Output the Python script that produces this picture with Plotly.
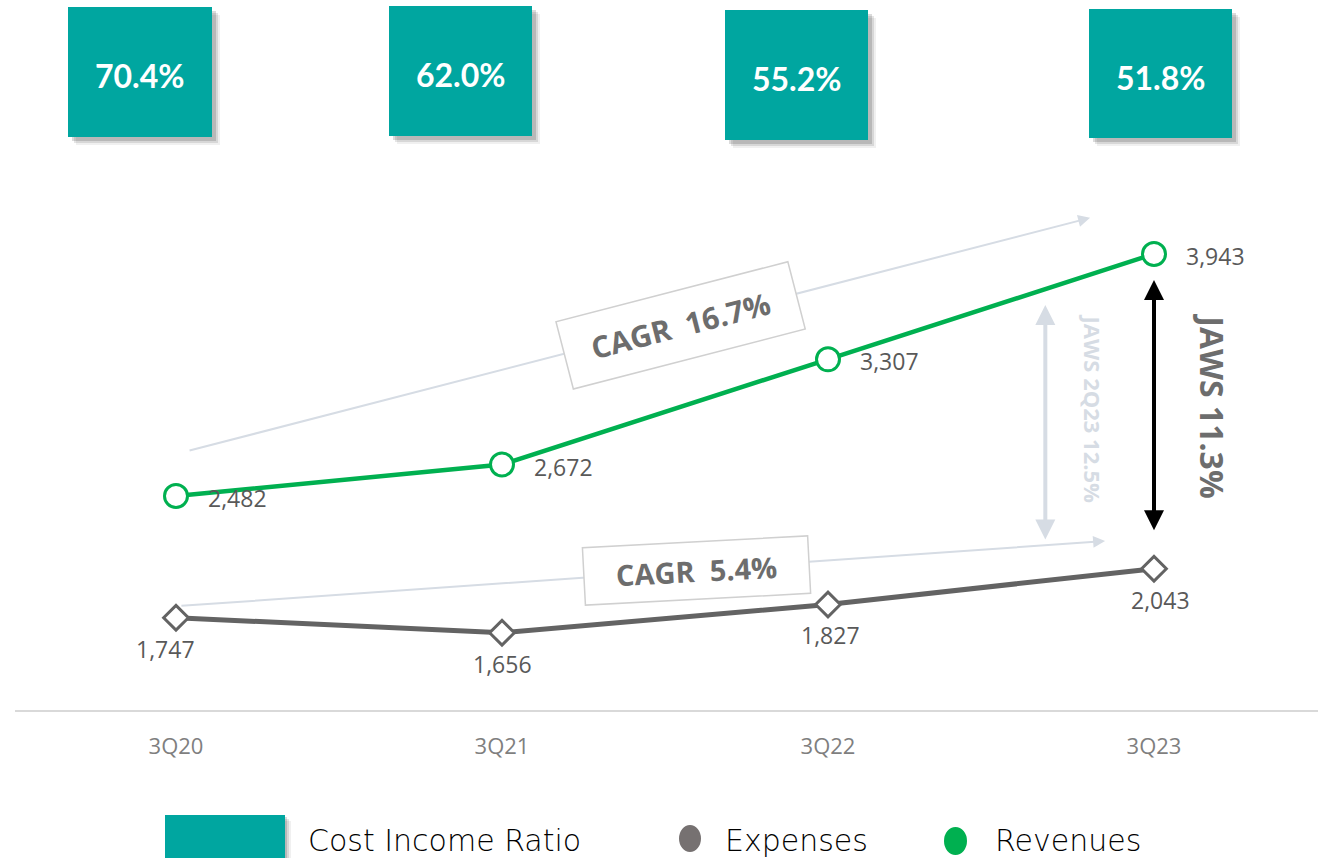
import plotly.graph_objects as go

# ---------------- data ----------------
categories = ["3Q20", "3Q21", "3Q22", "3Q23"]
revenues = [2482, 2672, 3307, 3943]
expenses = [1747, 1656, 1827, 2043]
cost_income_ratio = [70.4, 62.0, 55.2, 51.8]
cagr_revenues = 16.7
cagr_expenses = 5.4
jaws_current = 11.3
jaws_prev_label = "JAWS 2Q23"
jaws_prev = 12.5
legend_names = ["Cost Income Ratio", "Expenses", "Revenues"]

# ---------------- style ----------------
GREEN = "#00B050"
GREY = "#636363"
TEAL = "#00A6A0"
LIGHT = "#D6DCE4"
LABEL = "#595959"
NB = "\u00a0"
W, H = 1327, 858
ML, MR, MT, MB = 15, 9, 0, 148
PW, PH = W - ML - MR, H - MT - MB


def px(xp):
    return (xp - ML) / PW


def py(yp):
    return (H - MB - yp) / PH


xs = list(range(len(categories)))

fig = go.Figure()

fig.add_trace(go.Scatter(
    x=xs, y=expenses, mode="lines+markers", name=legend_names[1],
    line=dict(color=GREY, width=5),
    marker=dict(symbol="diamond", size=19, color="white", line=dict(color=GREY, width=3)),
    cliponaxis=False, showlegend=False, hoverinfo="x+y"))

fig.add_trace(go.Scatter(
    x=xs, y=revenues, mode="lines+markers", name=legend_names[2],
    line=dict(color=GREEN, width=4.5),
    marker=dict(symbol="circle", size=23, color="white", line=dict(color=GREEN, width=3)),
    cliponaxis=False, showlegend=False, hoverinfo="x+y"))

ann = []
shapes = []

# data labels
for x, v in zip(xs, revenues):
    ann.append(dict(x=x, y=v, xref="x", yref="y", text=f"{v:,}", showarrow=False,
                    xanchor="left", yanchor="middle", xshift=30, yshift=-2,
                    font=dict(family="Open Sans", size=23, color=LABEL)))
exp_xshift = [-11, 0, 2, 6]
for x, v, s in zip(xs, expenses, exp_xshift):
    ann.append(dict(x=x, y=v, xref="x", yref="y", text=f"{v:,}", showarrow=False,
                    xanchor="center", yanchor="middle", xshift=s, yshift=-31,
                    font=dict(family="Open Sans", size=23, color=LABEL)))

# CAGR arrows (light)
ann.append(dict(x=2.804, y=4161, ax=0.037, ay=2754, xref="x", yref="y", axref="x", ayref="y",
                text="", showarrow=True, arrowhead=2, arrowsize=1.2, arrowwidth=2, arrowcolor=LIGHT))
ann.append(dict(x=2.85, y=2210, ax=0.012, ay=1818, xref="x", yref="y", axref="x", ayref="y",
                text="", showarrow=True, arrowhead=2, arrowsize=1.2, arrowwidth=2, arrowcolor=LIGHT))

# JAWS previous (light double arrow at 2Q23 position)
ann.append(dict(x=2 + 2 / 3, y=3635, ax=2 + 2 / 3, ay=2210, xref="x", yref="y", axref="x", ayref="y",
                text="", showarrow=True, arrowhead=2, startarrowhead=2, arrowside="end+start",
                arrowsize=1, arrowwidth=4, arrowcolor=LIGHT))
ann.append(dict(x=2 + 2 / 3, y=2905, xref="x", yref="y", xshift=48, yshift=17,
                text=f"<b>{jaws_prev_label} {jaws_prev:.1f}%</b>", textangle=90, showarrow=False,
                xanchor="center", yanchor="middle",
                font=dict(family="Open Sans", size=22, color=LIGHT)))

# JAWS current (black double arrow at 3Q23)
ann.append(dict(x=3, y=revenues[3], ax=3, ay=expenses[3], xref="x", yref="y", axref="x", ayref="y",
                text="", showarrow=True, arrowhead=2, startarrowhead=2, arrowside="end+start",
                arrowsize=1, arrowwidth=4, arrowcolor="black", standoff=26, startstandoff=37))
ann.append(dict(x=3, y=(revenues[3] + expenses[3]) / 2, xref="x", yref="y", xshift=59, yshift=6,
                text=f"<b>JAWS {jaws_current:.1f}%</b>", textangle=90, showarrow=False,
                xanchor="center", yanchor="middle",
                font=dict(family="Open Sans", size=32, color="#6D6D6D")))

# CAGR boxes
ann.append(dict(x=1.546, y=3514, xref="x", yref="y", text=f"<b>CAGR{NB}{NB}{cagr_revenues:.1f}%</b>",
                textangle=-14.5, showarrow=False, bgcolor="white", bordercolor="#D0D0D0",
                borderwidth=1.5, borderpad=8, width=222, height=52,
                xanchor="center", yanchor="middle",
                font=dict(family="Open Sans", size=30, color="#6D6D6D")))
ann.append(dict(x=1.598, y=2035, xref="x", yref="y", text=f"<b>CAGR{NB}{NB}{cagr_expenses:.1f}%</b>",
                textangle=-3, showarrow=False, bgcolor="white", bordercolor="#D0D0D0",
                borderwidth=1.5, borderpad=7, width=210, height=42,
                xanchor="center", yanchor="middle",
                font=dict(family="Open Sans", size=29, color="#6D6D6D")))

# Cost income ratio boxes (top)
box_px = [(68, 7, 212, 137), (389, 6, 532, 136), (725, 10, 868, 140), (1089, 9, 1232, 138)]
for (x0, y0, x1, y1), v in zip(box_px, cost_income_ratio):
    for off, op in [(8, 0.06), (6, 0.10), (4, 0.14)]:
        shapes.append(dict(type="rect", xref="paper", yref="paper",
                           x0=px(x0 + off), x1=px(x1 + off), y0=py(y0 + off), y1=py(y1 + off),
                           fillcolor=f"rgba(0,0,0,{op})", line=dict(width=0), layer="below"))
    shapes.append(dict(type="rect", xref="paper", yref="paper",
                       x0=px(x0), x1=px(x1), y0=py(y0), y1=py(y1),
                       fillcolor=TEAL, line=dict(width=0), layer="below"))
    ann.append(dict(x=px((x0 + x1) / 2), y=py((y0 + y1) / 2 + 4), xref="paper", yref="paper",
                    text=f"<b>{v:.1f}%</b>", showarrow=False, xanchor="center", yanchor="middle",
                    font=dict(family="Lato", size=32, color="white")))

# custom legend
for off, op in [(6, 0.06), (4, 0.10), (2, 0.14)]:
    shapes.append(dict(type="rect", xref="paper", yref="paper",
                       x0=px(165 + off), x1=px(285 + off), y0=py(815 + off), y1=py(870),
                       fillcolor=f"rgba(0,0,0,{op})", line=dict(width=0)))
shapes.append(dict(type="rect", xref="paper", yref="paper",
                   x0=px(165), x1=px(285), y0=py(815), y1=py(870),
                   fillcolor=TEAL, line=dict(width=0)))
shapes.append(dict(type="circle", xref="paper", yref="paper",
                   x0=px(679), x1=px(701), y0=py(825), y1=py(852),
                   fillcolor="#767171", line=dict(width=0)))
shapes.append(dict(type="circle", xref="paper", yref="paper",
                   x0=px(944), x1=px(967), y0=py(827), y1=py(855),
                   fillcolor=GREEN, line=dict(width=0)))
for xp, name in zip([306, 723, 993], legend_names):
    ann.append(dict(x=px(xp), y=py(840), xref="paper", yref="paper", text=name, showarrow=False,
                    xanchor="left", yanchor="middle",
                    font=dict(family="DejaVu Sans", size=30, color="black", weight=200)))

fig.update_layout(
    width=W, height=H,
    margin=dict(l=ML, r=MR, t=MT, b=MB),
    paper_bgcolor="white", plot_bgcolor="white",
    showlegend=False,
    annotations=ann, shapes=shapes,
    xaxis=dict(range=[(ML - 176) / 326, (W - MR - 176) / 326], tickvals=xs, ticktext=categories,
               showgrid=False, zeroline=False, showline=True, linecolor="#D9D9D9", linewidth=2,
               ticks="", ticklabelstandoff=16,
               tickfont=dict(family="Open Sans", size=22, color="#7F7F7F")),
    yaxis=dict(range=[1190, 5476], visible=False, showgrid=False, zeroline=False),
)

fig.write_html("out.html", config={"displayModeBar": False},
               post_script="document.body.style.margin='0';document.body.style.padding='0';")
